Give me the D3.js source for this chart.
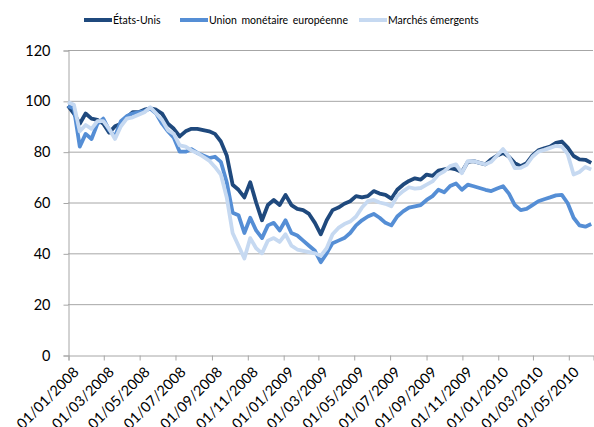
<!DOCTYPE html>
<html lang="fr">
<head>
<meta charset="UTF-8">
<title>Indices boursiers</title>
<script src="https://cdn.jsdelivr.net/npm/d3@7"></script>
<style>
  body { margin: 0; background: #fff; }
  text { font-family: Lato, "Liberation Sans", sans-serif; fill: #000; }
</style>
</head>
<body>
<script>
// séries, un point tous les 10 jours à partir du 01/01/2008
var startDate = new Date(2008, 0, 1);
var stepDays = 10;

var etatsUnis = [98, 95, 91, 95, 93, 92.5, 91, 87.5, 90, 91,
    93.5, 95.5, 95.5, 96.5, 97, 96.5, 95, 91, 89, 86,
    88, 89, 89, 88.5, 88, 87, 84, 78.5, 67, 65,
    62, 68, 60, 53, 59, 61, 59, 63, 59, 57.5,
    57, 55.5, 52, 47.5, 53, 57, 58, 59.5, 60.5, 62.5,
    62, 62.5, 64.5, 63.5, 63, 61.5, 65, 67, 68.5, 69.5,
    69, 71, 70.5, 72.5, 73, 73.5, 73, 72, 76, 76.3,
    75.6, 75, 77, 78.5, 79.5, 78, 75.5, 74.3, 75.5, 78.5,
    80.5, 81.3, 82, 83.5, 84, 81.6, 78.3, 77, 76.8, 75.6];

var ume = [98, 97, 82, 87, 85, 91, 93, 88.5, 86, 92,
    94, 95, 95.5, 96, 97, 95, 91, 88, 85.5, 80,
    80, 81, 79.5, 78.5, 77.5, 78, 76, 68, 56, 55,
    48, 54, 49, 46, 51, 52, 49, 53, 48, 47,
    45, 43, 41, 36.5, 40, 44, 45, 46, 48, 51,
    53, 54.5, 55.5, 54, 52, 51, 54.5, 56.5, 58, 58.5,
    59, 61, 62.5, 65, 64, 66.5, 67.5, 65, 67, 66.4,
    65.7, 65, 64.5, 65.5, 66.4, 63.5, 59, 57, 57.5, 59,
    60.5, 61.3, 62, 62.8, 63, 59.7, 54, 51, 50.5, 51.5];

var emergents = [99.5, 98.5, 88, 90.5, 89, 92, 92, 89, 85, 90,
    93, 93.5, 94.5, 95.5, 97.5, 95, 92.5, 88.5, 87, 82.5,
    82, 80.5, 79.5, 78, 76.5, 74, 71, 62, 48, 43,
    38, 46, 42, 40, 45, 46, 44.5, 47.5, 43, 41.5,
    41, 40.5, 40, 39, 42, 47.5, 50, 51.5, 52.5, 54.5,
    58, 60.5, 61, 60, 59.5, 58.5, 62.5, 64.5, 66, 65.5,
    65.7, 67, 68.3, 71, 72.3, 74.3, 75, 71.5, 76.3, 76.3,
    75.6, 75, 76, 78.5, 81, 78, 73.5, 73.6, 74.8, 78,
    80, 80.7, 81.5, 82.3, 82, 79, 71, 72, 74, 73];

var seriesNames = ["États-Unis", "Union monétaire européenne", "Marchés émergents"];
var seriesColors = ["#1f497d", "#558ed5", "#c6d9f1"];
var yTicks = [0, 20, 40, 60, 80, 100, 120];
var xTickDates = ["01/01/2008", "01/03/2008", "01/05/2008", "01/07/2008", "01/09/2008",
    "01/11/2008", "01/01/2009", "01/03/2009", "01/05/2009", "01/07/2009", "01/09/2009",
    "01/11/2009", "01/01/2010", "01/03/2010", "01/05/2010"];

var width = 594, height = 427;
var margin = {left: 68, right: 1, top: 50, bottom: 72};
var font = "Lato, 'Liberation Sans', sans-serif";

var svg = d3.select("body").append("svg")
    .attr("width", width)
    .attr("height", height);

var parseFr = d3.timeParse("%d/%m/%Y");
var dates = etatsUnis.map(function (d, i) { return d3.timeDay.offset(startDate, i * stepDays); });

var x = d3.scaleTime()
    .domain([startDate, new Date(2010, 5, 12)])
    .range([margin.left, width - margin.right]);
var y = d3.scaleLinear()
    .domain([0, 120])
    .range([height - margin.bottom, margin.top]);

// grille horizontale
svg.append("g")
    .selectAll("line")
    .data(yTicks.filter(function (d) { return d > 0; }))
    .enter().append("line")
    .attr("x1", margin.left).attr("x2", width - margin.right)
    .attr("y1", function (d) { return y(d) + 0.5; })
    .attr("y2", function (d) { return y(d) + 0.5; })
    .attr("stroke", "#a6a6a6");

// axe vertical
var yAxis = svg.append("g")
    .attr("transform", "translate(" + (margin.left + 0.5) + ",0.5)")
    .call(d3.axisLeft(y).tickValues(yTicks).tickSize(5).tickPadding(13));
yAxis.selectAll("text").attr("font-size", 14.5).style("font-family", font);

// axe horizontal
var xAxis = svg.append("g")
    .attr("transform", "translate(0.5," + (y(0) + 0.5) + ")")
    .call(d3.axisBottom(x).tickValues(xTickDates.map(parseFr)).tickSize(5).tickFormat(d3.timeFormat("%d/%m/%Y")));
xAxis.selectAll("text")
    .attr("font-size", 14.5)
    .style("font-family", font)
    .attr("text-anchor", "end")
    .attr("dx", 0).attr("dy", 0)
    .attr("transform", "translate(5,12) rotate(-45)");

svg.selectAll(".domain, .tick line").attr("stroke", "#a6a6a6");

// courbes
var line = d3.line()
    .x(function (d, i) { return x(dates[i]); })
    .y(function (d) { return y(d); });

svg.append("g")
    .selectAll("path")
    .data([etatsUnis, ume, emergents])
    .enter().append("path")
    .attr("d", line)
    .attr("fill", "none")
    .attr("stroke", function (d, i) { return seriesColors[i]; })
    .attr("stroke-width", 3.8)
    .attr("stroke-linejoin", "round");

// légende
var legendX = [84, 180, 359];
var legend = svg.append("g");
seriesNames.forEach(function (name, i) {
    legend.append("line")
        .attr("x1", legendX[i]).attr("x2", legendX[i] + 28)
        .attr("y1", 20).attr("y2", 20)
        .attr("stroke", seriesColors[i])
        .attr("stroke-width", 4);
    legend.append("text")
        .attr("x", legendX[i] + 29).attr("y", 24)
        .attr("font-size", 10.5)
        .attr("word-spacing", i === 1 ? 2 : 0)
        .text(name);
});
</script>
</body>
</html>
